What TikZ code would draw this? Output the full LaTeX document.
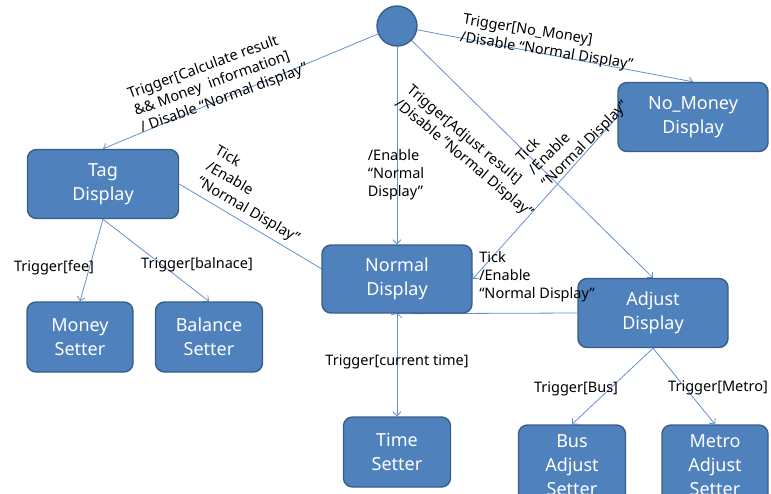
\documentclass[tikz,border=0pt]{standalone}
\usepackage{fontspec}
\setmainfont{Noto Sans}
\usetikzlibrary{arrows.meta}
\pgfdeclarelayer{background}
\pgfsetlayers{background,main}
\definecolor{boxfill}{RGB}{79,129,189}
\definecolor{boxline}{RGB}{56,93,138}
\definecolor{wire}{RGB}{100,145,205}
\tikzset{
  state/.style={rectangle, rounded corners=9pt, fill=boxfill, draw=boxline,
    line width=1.4pt, text=white, align=center, inner sep=0pt,
    font=\fontsize{18}{24}\selectfont},
  initstate/.style={circle, fill=boxfill, draw=boxline, line width=1.4pt,
    minimum size=40pt, inner sep=0pt},
  wireedge/.style={draw=wire, line width=0.8pt,
    -{Straight Barb[length=4pt,width=8pt]}},
  lbl/.style={text=black, inner sep=0pt, align=left,
    font=\fontsize{14.5}{18}\selectfont},
}
\begin{document}
\begin{tikzpicture}[x=1pt,y=-1pt]
\useasboundingbox (0,0) rectangle (771,493);
\clip (0,0) rectangle (771,493);

% states
\node[initstate] (init) at (397,26) {};
\node[state, minimum width=151pt, minimum height=69pt] (tag) at (103,184) {Tag\\Display};
\node[state, minimum width=150pt, minimum height=69pt] (nomoney) at (693,117) {No\_Money\\Display};
\node[state, minimum width=150pt, minimum height=68pt] (normal) at (397,279) {Normal\\Display};
\node[state, minimum width=150pt, minimum height=69pt] (adjust) at (653,313) {Adjust\\Display};
\node[state, minimum width=106pt, minimum height=70pt] (money) at (80,337) {Money\\Setter};
\node[state, minimum width=107pt, minimum height=70pt] (balance) at (209,337) {Balance\\Setter};
\node[state, minimum width=107pt, minimum height=70pt] (time) at (397,452) {Time\\Setter};
\node[state, minimum width=107pt, minimum height=80pt] (bus) at (572,465) {Bus\\Adjust\\Setter};
\node[state, minimum width=106pt, minimum height=80pt] (metro) at (715,465) {Metro\\Adjust\\Setter};

% transitions
\begin{pgfonlayer}{background}
\draw[wireedge] (init) -- (tag.north);
\draw[wireedge] (init) -- (nomoney.north);
\draw[wireedge] (init.south) -- (normal.north);
\draw[wireedge] (init) -- (adjust.north);
\draw[wireedge] (nomoney.west) -- (normal.east);
\draw[wireedge] (adjust.west) -- (normal.south);
\draw[wireedge] (tag.east) -- (normal.south);
\draw[wireedge] (tag.south) -- (money.north);
\draw[wireedge] (tag.south) -- (balance.north);
\draw[wireedge] (normal.south) -- (time.north);
\draw[wireedge] (adjust.south) -- (bus.north);
\draw[wireedge] (adjust.south) -- (metro.north);
\end{pgfonlayer}

% transition labels
\node[lbl, rotate=20] (lcalc) at (218,82) {Trigger[Calculate result\\\&\& Money\ \ information]\\/ Disable “Normal display”};
\node[lbl, rotate=-9] (lnomoney) at (548,43) {Trigger[No\_Money]\\/Disable “Normal Display”};
\node[lbl] (lenable) at (396,175) {/Enable\\“Normal\\Display”};
\node[lbl, rotate=-40] (ladjust) at (470,152) {Trigger[Adjust result]\\/Disable “Normal Display”};
\node[lbl, rotate=45] (ltickA) at (573,132) {Tick\\/Enable\\“Normal Display”};
\node[lbl, rotate=-30] (ltickB) at (257,195) {Tick\\/Enable\\“Normal Display”};
\node[lbl] (ltickC) at (537,277) {Tick\\/Enable\\“Normal Display”};
\node[lbl] (lfee) at (54,268) {Trigger[fee]};
\node[lbl] (lbal) at (197,265) {Trigger[balnace]};
\node[lbl] (ltime) at (397,362) {Trigger[current time]};
\node[lbl] (lbus) at (576,389) {Trigger[Bus]};
\node[lbl] (lmetro) at (718,388) {Trigger[Metro]};
\end{tikzpicture}
\end{document}
